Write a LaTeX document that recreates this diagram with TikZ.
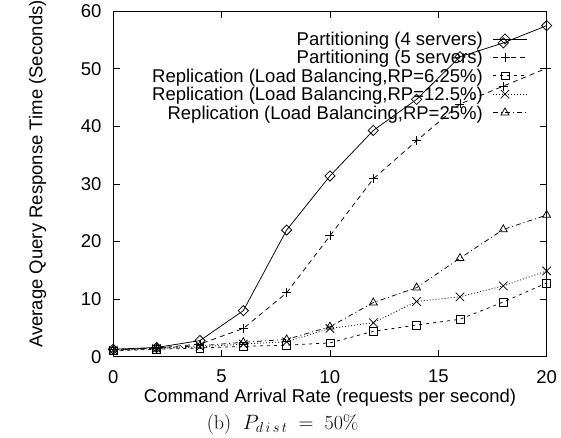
\documentclass[tikz,border=0pt]{standalone}
\usepackage{fontspec}
\newfontfamily\helv{Liberation Sans}
\usetikzlibrary{plotmarks}

\begin{document}
\begin{tikzpicture}[
  frame/.style={line width=1.5pt},
  tickline/.style={line width=0.9pt},
  lbl/.style={font={\helv\fontsize{18.5}{20}\selectfont}, inner sep=0pt},
  curve/.style={line width=0.75pt, black},
  part4/.style={curve, solid, mark=square, mark size=3.6pt, mark options={solid, rotate=45}},
  part5/.style={curve, dash pattern=on 5pt off 4pt, mark=+, mark size=4.5pt, mark options={solid}},
  rep6/.style={curve, dash pattern=on 3pt off 4pt, mark=square, mark size=3.9pt, mark options={solid}},
  rep12/.style={curve, dash pattern=on 1pt off 2pt, mark=x, mark size=6pt, mark options={solid}},
  rep25/.style={curve, dash pattern=on 5pt off 3pt on 1pt off 3pt, mark=triangle, mark size=4.6pt, mark options={solid}}
]
\useasboundingbox (0,0) rectangle (561pt,438pt);

% ---------- plot area: x in requests/s, y in seconds ----------
\begin{scope}[shift={(113.3pt,81.3pt)}, x=21.667pt, y=5.757pt]
  % data series
  \draw[part4] plot coordinates {(0,1.3) (2,1.6) (4,2.8) (6,8.0) (8,22.0) (10,31.4)
      (12,39.3) (14,44.7) (16,52.1) (18,54.5) (20,57.5)};
  \draw[part5] plot coordinates {(0,1.2) (2,1.5) (4,2.2) (6,4.9) (8,11.1) (10,21.0)
      (12,30.9) (14,37.5) (16,43.9) (18,47.0) (20,50.1)};
  \draw[rep6] plot coordinates {(0,1.0) (2,1.3) (4,1.5) (6,1.8) (8,2.0) (10,2.4)
      (12,4.4) (14,5.5) (16,6.5) (18,9.5) (20,12.8)};
  \draw[rep12] plot coordinates {(0,1.1) (2,1.4) (4,1.7) (6,2.2) (8,2.6) (10,4.9)
      (12,5.9) (14,9.6) (16,10.4) (18,12.3) (20,14.9)};
  \draw[rep25] plot coordinates {(0,1.2) (2,1.5) (4,1.9) (6,2.5) (8,3.0) (10,5.2)
      (12,9.4) (14,12.0) (16,17.1) (18,22.1) (20,24.6)};

  % border
  \draw[frame] (0,0) rectangle (20,60);

  % x ticks (bottom and top) with labels
  \foreach \v in {0,5,10,15,20} {
    \draw[tickline] (\v,0) -- ++(0,7pt);
    \draw[tickline] (\v,60) -- ++(0,-7pt);
    \node[lbl, anchor=north] (xt\v) at ([yshift=-13.3pt]\v,0) {\v};
  }
  % y ticks (left and right) with labels
  \foreach \v in {0,10,20,30,40,50,60} {
    \draw[tickline] (0,\v) -- ++(7pt,0);
    \draw[tickline] (20,\v) -- ++(-7pt,0);
    \node[lbl, anchor=east] (yt\v) at ([xshift=-11.6pt]0,\v) {\v};
  }
\end{scope}

% ---------- axis titles and caption ----------
\node[lbl, rotate=90, anchor=center] (ylab) at (37.5pt,264pt)
  {Average Query Response Time (Seconds)};
\node[lbl, anchor=base] (xlab) at (330pt,35.3pt)
  {Command Arrival Rate (requests per second)};
\node[inner sep=0pt, anchor=base west, font=\fontsize{20}{24}\selectfont] (cap) at (206.7pt,8.7pt)
  {(b)\hspace{11.6pt}$P_{d\,i\,s\,t}$\hspace{11pt}$=$\hspace{11.1pt}50\%};

% ---------- key ----------
\foreach \txt/\sty/\yy [count=\k] in {
    Partitioning (4 servers)/part4/392.4,
    Partitioning (5 servers)/part5/374.0,
    {Replication (Load Balancing,RP=6.25\%)}/rep6/355.6,
    {Replication (Load Balancing,RP=12.5\%)}/rep12/337.2,
    {Replication (Load Balancing,RP=25\%)}/rep25/318.8} {
  \node[lbl, anchor=base east] (key\k) at (483pt,\yy pt) {\txt};
  \coordinate (ks\k) at (493pt,\yy pt+6.6pt);
  \coordinate (ke\k) at (527pt,\yy pt+6.6pt);
  \coordinate (km\k) at (505pt,\yy pt+6.6pt);
  \draw[\sty, mark=none] (ks\k) -- (ke\k);
  \draw[\sty] plot coordinates {(km\k)};
}
\end{tikzpicture}
\end{document}
